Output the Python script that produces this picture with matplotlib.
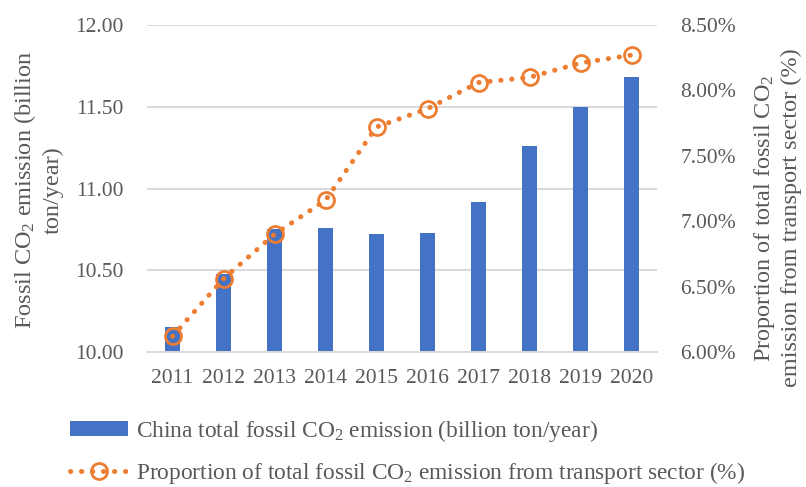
import numpy as np
import matplotlib
matplotlib.use("Agg")
import matplotlib.pyplot as plt
from matplotlib.ticker import FuncFormatter

plt.rcParams["font.family"] = ["Liberation Serif", "DejaVu Serif"]
plt.rcParams["mathtext.default"] = "regular"

# --- data ---
years = ["2011", "2012", "2013", "2014", "2015", "2016", "2017", "2018", "2019", "2020"]
co2_total = [10.15, 10.48, 10.75, 10.76, 10.72, 10.73, 10.92, 11.26, 11.50, 11.68]
transport_share = [6.12, 6.56, 6.90, 7.16, 7.72, 7.86, 8.06, 8.10, 8.21, 8.27]

BAR_COLOR = "#4472C4"
LINE_COLOR = "#ED7D31"
TEXT_COLOR = "#595959"
GRID_COLOR = "#D9D9D9"
FS = 15.5
FS_LEGEND = 16.8
FS_TITLE = 17.5

fig = plt.figure(figsize=(8.06, 4.87), dpi=100)
W, H = 806, 487
ax = fig.add_axes([147 / W, 1 - 352 / H, 510 / W, 327 / H])
ax2 = ax.twinx()

x = np.arange(len(years))
bars = ax.bar(x, co2_total, width=0.31, color=BAR_COLOR, zorder=2,
              label="China total fossil CO$_2$ emission (billion ton/year)")
line, = ax2.plot(x, transport_share, color=LINE_COLOR, lw=3.6,
                 linestyle=(0, (0.05, 2.15)), dash_capstyle="round",
                 marker="o", markersize=11.5, markerfacecolor="none",
                 markeredgewidth=2.0, markeredgecolor=LINE_COLOR,
                 label="Proportion of total fossil CO$_2$ emission from transport sector (%)")

ax.set_xlim(-0.5, len(years) - 0.5)
ax.set_ylim(10.0, 12.0)
ax.set_yticks(np.arange(10.0, 12.01, 0.5))
ax.yaxis.set_major_formatter(FuncFormatter(lambda v, _: f"{v:.2f}"))
ax2.set_ylim(6.0, 8.5)
ax2.set_yticks(np.arange(6.0, 8.51, 0.5))
ax2.yaxis.set_major_formatter(FuncFormatter(lambda v, _: f"{v:.2f}%"))

ax.set_xticks(x)
ax.set_xticklabels(years)
ax.grid(axis="y", color=GRID_COLOR, lw=1.4, zorder=0)
ax.set_axisbelow(True)

for a in (ax, ax2):
    for side in ("top", "left", "right", "bottom"):
        a.spines[side].set_visible(False)
    a.tick_params(length=0, labelsize=FS, colors=TEXT_COLOR)
ax.spines["bottom"].set_visible(True)
ax.spines["bottom"].set_color(GRID_COLOR)
ax.spines["bottom"].set_linewidth(1.4)
ax.tick_params(axis="y", pad=17)
ax2.tick_params(axis="y", pad=17)
ax.tick_params(axis="x", pad=12)

# axis titles
fig.text(38 / W, 1 - 190 / H, "Fossil CO$_2$ emission (billion\nton/year)",
         rotation=90, ha="center", va="center", multialignment="center",
         fontsize=FS_TITLE, color=TEXT_COLOR, linespacing=1.25)
fig.text(777 / W, 1 - 218 / H,
         "Proportion of total fossil CO$_2$\nemission from transport sector (%)",
         rotation=90, ha="center", va="center", multialignment="center",
         fontsize=FS_TITLE, color=TEXT_COLOR, linespacing=1.25)

# legend below the plot
leg = fig.legend(handles=[bars, line], loc="upper left",
                 bbox_to_anchor=(70 / W, 1 - 418 / H), frameon=False,
                 fontsize=FS_LEGEND, handlelength=2.5, handleheight=0.6,
                 handletextpad=0.33, labelspacing=0.68, numpoints=1,
                 borderaxespad=0, borderpad=0)
for t in leg.get_texts():
    t.set_color(TEXT_COLOR)

fig.savefig("out.png", dpi=100)
